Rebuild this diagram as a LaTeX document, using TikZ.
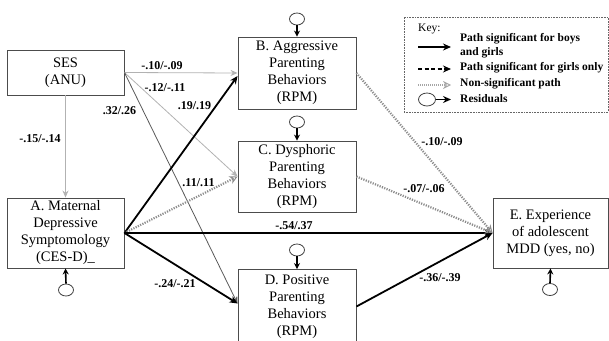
\documentclass[tikz,border=0pt]{standalone}
\usepackage{fontspec}
\setmainfont{Liberation Serif}
\usetikzlibrary{arrows.meta,shapes.geometric}

\newcommand{\boxfont}{\fontsize{14.5}{17}\selectfont}
\newcommand{\labfont}{\fontsize{12}{13}\selectfont\bfseries}
\newcommand{\keyfont}{\fontsize{11.5}{14}\selectfont\bfseries}

\tikzset{
  varbox/.style={draw=black!70, line width=0.9pt, fill=white, align=center,
    font=\boxfont, inner sep=0pt, rectangle},
  resid/.style={draw=black!75, line width=0.8pt, ellipse, inner sep=0pt,
    minimum width=15pt, minimum height=12pt},
  residarrow/.style={line width=1.6pt, black, -{Stealth[length=6pt,width=6pt]}},
  sigpath/.style={line width=1.8pt, black, -{Stealth[length=8pt,width=7pt]}},
  girlspath/.style={line width=1.8pt, black, dash pattern=on 4pt off 2.5pt,
    -{Stealth[length=8pt,width=7pt]}},
  nspath/.style={line width=2.2pt, black!45, dash pattern=on 1.2pt off 1.3pt,
    -{Stealth[length=8pt,width=8pt,open,line width=1pt]}},
  lightpath/.style={line width=0.8pt, black!30, -{Stealth[length=7pt,width=6pt]}},
  darkpath/.style={line width=0.8pt, black!65, -{Stealth[length=7pt,width=6pt]}},
  coef/.style={font=\labfont, inner sep=0pt},
  keytext/.style={font=\keyfont, inner sep=0pt, anchor=west, align=left}
}

\begin{document}
\begin{tikzpicture}[x=1pt,y=-1pt]
\useasboundingbox (0,0) rectangle (609,340);
\clip (0,0) rectangle (609,340);

% variables
\node[varbox, minimum width=117pt, minimum height=45pt] (ses) at (65.5,72.5) {SES\\(ANU)};
\node[varbox, minimum width=117pt, minimum height=70pt] (a) at (65.5,233)
  {A. Maternal\\Depressive\\Symptomology\\(CES-D)\_};
\node[varbox, minimum width=118pt, minimum height=72pt] (b) at (297,73)
  {B. Aggressive\\Parenting\\Behaviors\\(RPM)};
\node[varbox, minimum width=118pt, minimum height=71pt] (c) at (297,176.5)
  {C. Dysphoric\\Parenting\\Behaviors\\(RPM)};
\node[varbox, minimum width=118pt, minimum height=74pt] (d) at (297,306.5)
  {D. Positive\\Parenting\\Behaviors\\(RPM)};
\node[varbox, minimum width=115pt, minimum height=70pt] (e) at (550.5,233)
  {E. Experience\\of adolescent\\MDD (yes, no)};

% residuals
\node[resid] (ra) at (66,290) {};
\node[resid] (rb) at (297,19) {};
\node[resid] (rc) at (297,122) {};
\node[resid] (rd) at (297,250) {};
\node[resid] (re) at (550,289.5) {};
\draw[residarrow] (ra.north) -- (a.south);
\draw[residarrow] (rb.south) -- (b.north);
\draw[residarrow] (rc.south) -- (c.north);
\draw[residarrow] (rd.south) -- (d.north);
\draw[residarrow] (re.north) -- (e.south);

% paths from SES
\draw[lightpath] (ses.east) -- (b.west);
\draw[lightpath] (ses.east) -- (c.west);
\draw[darkpath] (ses.east) -- ([yshift=3pt]d.west);
\draw[lightpath] (ses.south) -- (a.north);

% paths from maternal depression
\draw[sigpath] (a.east) -- ([yshift=-3pt]b.west);
\draw[nspath] (a.east) -- (c.west);
\draw[sigpath] (a.east) -- (e.west);
\draw[sigpath] (a.east) -- ([yshift=3pt]d.west);

% paths into adolescent MDD
\draw[nspath] (b.east) -- (e.west);
\draw[nspath] (c.east) -- (e.west);
\draw[sigpath] (d.east) -- (e.west);

% coefficients
\node[coef] (c1) at (162,66) {-.10/-.09};
\node[coef] (c2) at (165,88) {-.12/-.11};
\node[coef] (c3) at (119.5,111) {.32/.26};
\node[coef] (c4) at (40,139) {-.15/-.14};
\node[coef] (c5) at (194.5,106) {.19/.19};
\node[coef] (c6) at (198.5,183) {.11/.11};
\node[coef] (c7) at (294,226) {-.54/.37};
\node[coef] (c8) at (175,284) {-.24/-.21};
\node[coef] (c9) at (442,142) {-.10/-.09};
\node[coef] (c10) at (424,189) {-.07/-.06};
\node[coef] (c11) at (440,278) {-.36/-.39};

% key
\node[draw=black!60, line width=0.8pt, dash pattern=on 0.8pt off 0.8pt,
  minimum width=204pt, minimum height=95pt, inner sep=0pt] (key) at (506,64.5) {};
\node[keytext, font=\fontsize{11.5}{14}\selectfont] (keytitle) at (418,29) {Key:};
\coordinate (k1s) at (418,47);   \coordinate (k1e) at (451,47);
\coordinate (k2s) at (418,69);   \coordinate (k2e) at (451,69);
\coordinate (k3s) at (418,85);   \coordinate (k3e) at (451,85);
\draw[sigpath, line width=1.6pt] (k1s) -- (k1e);
\draw[girlspath, line width=1.6pt] (k2s) -- (k2e);
\draw[nspath, line width=1.4pt, black!35, dash pattern=on 1pt off 1pt] (k3s) -- (k3e);
\node[resid, minimum width=17pt, minimum height=13pt] (kr) at (427,99.5) {};
\coordinate (k4e) at (451,99.5);
\draw[sigpath, line width=1.6pt] (kr.east) -- (k4e);
\node[keytext] (kt1) at (460,46) {Path significant for boys\\and girls};
\node[keytext] (kt2) at (460,68) {Path significant for girls only};
\node[keytext] (kt3) at (460,83.5) {Non-significant path};
\node[keytext] (kt4) at (460,98.5) {Residuals};
\end{tikzpicture}
\end{document}
